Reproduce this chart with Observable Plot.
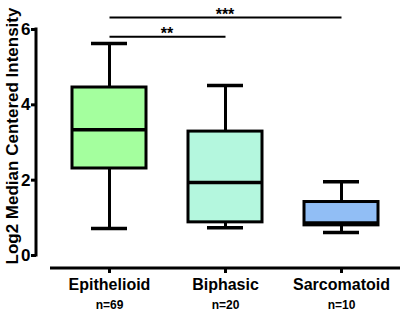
<!DOCTYPE html>
<html><head><meta charset="utf-8">
<script src="https://cdn.jsdelivr.net/npm/d3@7"></script>
<script src="https://cdn.jsdelivr.net/npm/@observablehq/plot@0.6"></script>
<style>
body{margin:0;background:#fff;}
#chart svg{font-family:"Liberation Sans",Arial,sans-serif;overflow:visible;}
</style>
</head><body><div id="chart"></div>
<script>
const categories = ["Epithelioid", "Biphasic", "Sarcomatoid"];
const counts = ["n=69", "n=20", "n=10"];
const minVals = [0.72, 0.74, 0.61];
const q1Vals = [2.31, 0.88, 0.80];
const medians = [3.34, 1.94, 0.86];
const q3Vals = [4.46, 3.29, 1.42];
const maxVals = [5.63, 4.51, 1.96];
const fills = ["#a4ff9e", "#b4f7de", "#91bef5"];
const yTicks = [0, 2, 4, 6];
const yLabel = "Log2 Median Centered Intensity";
const compFrom = ["Epithelioid", "Epithelioid"];
const compTo = ["Biphasic", "Sarcomatoid"];
const compY = [5.81, 6.32];
const compLabel = ["**", "***"];

const rows = categories.map((c, i) => ({
  category: c, n: counts[i], min: minVals[i], q1: q1Vals[i],
  median: medians[i], q3: q3Vals[i], max: maxVals[i], fill: fills[i]
}));
const comps = compFrom.map((f, i) => ({from: f, to: compTo[i], y: compY[i], label: compLabel[i]}));

const decorations = (index, scales, values, dims) => {
  const y = scales.y;
  const xs = scales.x;
  const bw = typeof xs.bandwidth === "function" ? xs.bandwidth() : 0;
  const cx = c => xs(c) + bw / 2;
  const g = d3.create("svg:g");
  const lines = g.append("g").attr("stroke", "black").attr("stroke-width", 3).attr("fill", "none");
  lines.append("line")
    .attr("x1", dims.marginLeft - 14).attr("x2", dims.marginLeft - 14)
    .attr("y1", y(0) + 1.5).attr("y2", y(6) - 1.5);
  lines.append("line")
    .attr("x1", dims.marginLeft).attr("x2", dims.width - dims.marginRight)
    .attr("y1", y(0) + 13).attr("y2", y(0) + 13);
  const midY = (y(0) + y(6)) / 2;
  g.append("text")
    .attr("transform", `translate(${dims.marginLeft - 38},${midY - 6}) rotate(-90)`)
    .attr("text-anchor", "middle").attr("dy", "0.35em")
    .attr("font-size", 17).attr("font-weight", "bold").attr("fill", "black")
    .text(yLabel);
  for (const c of comps) {
    g.append("text")
      .attr("x", (cx(c.from) + cx(c.to)) / 2).attr("y", y(c.y) + 3)
      .attr("text-anchor", "middle")
      .attr("font-size", 16).attr("font-weight", "bold").attr("fill", "black")
      .text(c.label);
  }
  return g.node();
};

const chart = Plot.plot({
  width: 403,
  height: 312,
  marginLeft: 50,
  marginRight: 3,
  marginTop: 29,
  marginBottom: 57,
  style: {fontFamily: "Liberation Sans, Arial, sans-serif", color: "black", background: "white"},
  x: {domain: categories, padding: 0, label: null},
  y: {domain: [0, 6], label: null},
  color: {type: "identity"},
  marks: [
    decorations,
    Plot.axisY({ticks: yTicks, tickFormat: () => "", tickSize: 5, dx: -14, strokeWidth: 3, label: null}),
    Plot.text(yTicks, {y: d => d, text: d => String(d), frameAnchor: "left", dx: -20, textAnchor: "end", fontSize: 17, fontWeight: "bold"}),
    Plot.axisX({tickSize: 5, dy: 13, tickPadding: 5, fontSize: 16, fontWeight: "bold", strokeWidth: 3, label: null}),
    Plot.text(rows, {x: "category", text: "n", frameAnchor: "bottom", dy: 53, fontSize: 12, fontWeight: "bold", lineAnchor: "bottom"}),
    Plot.ruleX(rows, {x: "category", y1: "q3", y2: "max", stroke: "black", strokeWidth: 3}),
    Plot.ruleX(rows, {x: "category", y1: "min", y2: "q1", stroke: "black", strokeWidth: 3}),
    Plot.barY(rows, {x: "category", y1: "q1", y2: "q3", fill: "fill", stroke: "black", strokeWidth: 3, insetLeft: 21, insetRight: 21}),
    Plot.tickY(rows, {x: "category", y: "median", stroke: "black", strokeWidth: 3.5, insetLeft: 21, insetRight: 21}),
    Plot.tickY(rows, {x: "category", y: "max", stroke: "black", strokeWidth: 3.5, insetLeft: 40, insetRight: 40}),
    Plot.tickY(rows, {x: "category", y: "min", stroke: "black", strokeWidth: 3.5, insetLeft: 40, insetRight: 40}),
    Plot.link(comps, {x1: "from", x2: "to", y1: "y", y2: "y", stroke: "black", strokeWidth: 2})
  ]
});
document.getElementById("chart").appendChild(chart);
</script>
</body></html>
